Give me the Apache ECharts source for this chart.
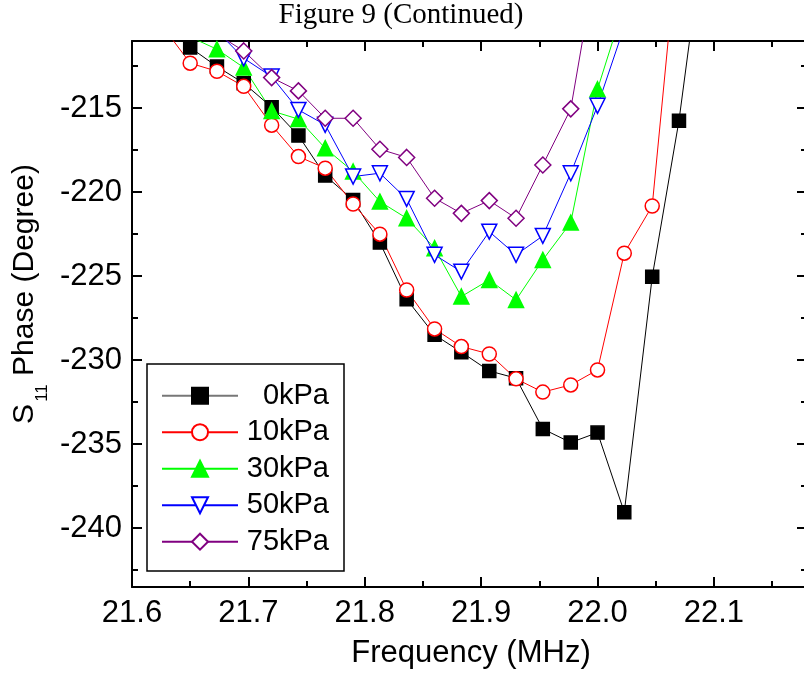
<!DOCTYPE html>
<html><head><meta charset="utf-8">
<script src="https://cdn.jsdelivr.net/npm/echarts@6/dist/echarts.min.js"></script>
<style>html,body{margin:0;padding:0;background:#fff}#c{width:804px;height:675px}</style>
</head><body><div id="c"></div>
<script>
const freq = [21.603, 21.626, 21.650, 21.673, 21.696, 21.720, 21.743, 21.766, 21.790, 21.813, 21.836, 21.860, 21.883, 21.907, 21.930, 21.953, 21.977, 22.000, 22.023, 22.047, 22.070, 22.093];
const seriesNames = ['0kPa', '10kPa', '30kPa', '50kPa', '75kPa'];
const kPa0  = [null, -209.9, -211.39, -212.52, -213.51, -214.94, -216.63, -219.01, -220.46, -223.0, -226.37, -228.49, -229.52, -230.64, -231.07, -234.09, -234.9, -234.31, -239.05, -225.04, -215.74, -203.7];
const kPa10 = [null, -210.1, -212.32, -212.8, -213.7, -216.01, -217.88, -218.57, -220.7, -222.5, -225.82, -228.14, -229.19, -229.63, -231.11, -231.9, -231.47, -230.58, -223.63, -220.82, -204.3, null];
const kPa30 = [null, -209.8, -210.76, -211.49, -212.58, -215.16, -215.65, -217.38, -218.77, -220.56, -221.55, -223.33, -226.21, -225.22, -226.41, -224.03, -221.81, -213.87, -208.83, null, null, null];
const kPa50 = [null, null, null, -210.4, -212.03, -213.12, -215.1, -215.99, -219.07, -218.87, -220.4, -223.73, -224.73, -222.35, -223.73, -222.6, -218.87, -214.86, -210.14, null, null, null];
const kPa75 = [null, null, -209.5, -210.6, -211.59, -213.18, -213.97, -215.6, -215.6, -217.44, -217.93, -220.36, -221.26, -220.5, -221.55, -218.38, -215.04, -205.8, null, null, null, null];
const xMajor = [21.6, 21.7, 21.8, 21.9, 22.0, 22.1];
const xMinor = [21.65, 21.75, 21.85, 21.95, 22.05, 22.15];
const yMajor = [-240, -235, -230, -225, -220, -215];
const yMinor = [-242.5, -237.5, -232.5, -227.5, -222.5, -217.5, -212.5];

const FONT = 'Arial, "Liberation Sans", sans-serif';
const pairs = vals => freq.map((f, i) => [f, vals[i]]);

const X_MIN = 21.6, X_MAX = 22.18, Y_MIN = -243.5, Y_MAX = -211;

function xAx(pos, ticks, len, withLabel, withLine) {
  return {
    type: 'value', min: X_MIN, max: X_MAX, position: pos,
    splitLine: { show: false },
    axisLine: { show: withLine, onZero: false, lineStyle: { color: '#000', width: 2 } },
    axisTick: { show: true, inside: true, length: len, customValues: ticks, lineStyle: { color: '#000', width: 2 } },
    axisLabel: withLabel ? { show: true, customValues: ticks, formatter: v => v.toFixed(1), fontSize: 31, fontFamily: FONT, color: '#000', margin: 11 } : { show: false },
    name: withLabel ? 'Frequency (MHz)' : '',
    nameLocation: 'middle', nameGap: 51, nameMoveOverlap: false,
    nameTextStyle: { fontSize: 31, fontFamily: FONT, color: '#000', padding: [0, 0, 0, 3] }
  };
}
function yAx(pos, ticks, len, withLabel, withLine) {
  return {
    type: 'value', min: Y_MIN, max: Y_MAX, position: pos,
    splitLine: { show: false },
    axisLine: { show: withLine, onZero: false, lineStyle: { color: '#000', width: 2 } },
    axisTick: { show: true, inside: true, length: len, customValues: ticks, lineStyle: { color: '#000', width: 2 } },
    axisLabel: withLabel ? { show: true, customValues: ticks, fontSize: 31, fontFamily: FONT, color: '#000', margin: 10 } : { show: false },
    name: withLabel ? '{s|S}{sub|11}{s| Phase (Degree)}' : '',
    nameLocation: 'middle', nameGap: 92, nameMoveOverlap: false,
    nameTextStyle: { fontSize: 30, fontFamily: FONT, color: '#000', padding: [0, 0, 0, 40],
      rich: { s: { fontSize: 30, fontFamily: FONT, color: '#000', lineHeight: 30, verticalAlign: 'top' },
              sub: { fontSize: 17, fontFamily: FONT, color: '#000', lineHeight: 17, verticalAlign: 'top', padding: [24, 0, 0, 2] } } }
  };
}

const styles = [
  { color: '#000000', symbol: 'rect', size: 13, fill: '#000000', rot: 0 },
  { color: '#ff0000', symbol: 'circle', size: 14, fill: '#ffffff', rot: 0 },
  { color: '#00ff00', symbol: 'triangle', size: 15, fill: '#00ff00', rot: 0 },
  { color: '#0000ff', symbol: 'triangle', size: 15, fill: '#ffffff', rot: 180 },
  { color: '#800080', symbol: 'diamond', size: 16, fill: '#ffffff', rot: 0 }
];
const values = [kPa0, kPa10, kPa30, kPa50, kPa75];

const series = values.map((v, i) => ({
  name: seriesNames[i], type: 'line', data: pairs(v),
  xAxisIndex: 0, yAxisIndex: 0, clip: true,
  symbol: styles[i].symbol, symbolSize: styles[i].size, symbolRotate: styles[i].rot,
  showAllSymbol: true, connectNulls: false,
  lineStyle: { color: styles[i].color, width: 1 },
  itemStyle: { color: styles[i].fill, borderColor: styles[i].color, borderWidth: 1.5, opacity: 1 },
  emphasis: { disabled: true }, animation: false
}));

const chart = echarts.init(document.getElementById('c'), null, { renderer: 'canvas' });
chart.setOption({
  animation: false,
  backgroundColor: '#fff',
  title: { text: 'Figure 9 (Continued)', left: 401, textAlign: 'center', top: 1, padding: 0,
    textStyle: { fontFamily: '"Liberation Serif", "Times New Roman", serif', fontWeight: 'normal', fontSize: 29, color: '#000' } },
  grid: { left: 132, top: 41, width: 675, height: 546, outerBoundsMode: 'none' },
  xAxis: [ xAx('bottom', xMajor, 10, true, true), xAx('bottom', xMinor, 6, false, false),
           xAx('top', xMajor, 10, false, true), xAx('top', xMinor, 6, false, false) ],
  yAxis: [ yAx('left', yMajor, 10, true, true), yAx('left', yMinor, 6, false, false),
           yAx('right', yMajor, 10, false, true), yAx('right', yMinor, 6, false, false) ],
  legend: {
    orient: 'vertical', left: 147, top: 364,
    itemWidth: 76, itemHeight: 20, itemGap: 4.5,
    padding: [15.7, 15, 13.3, 14],
    borderColor: '#000', borderWidth: 1.5, backgroundColor: '#fff',
    selectedMode: false,
    data: seriesNames.map((n, i) => i === 0 ? { name: n, lineStyle: { color: '#777' } } : { name: n }),
    formatter: n => '{r|' + n + '}',
    textStyle: { fontSize: 29, fontFamily: FONT, color: '#000', lineHeight: 32,
      rich: { r: { width: 86, align: 'right', fontSize: 29, fontFamily: FONT, color: '#000', lineHeight: 32 } } }
  },
  series: series
});
</script></body></html>
